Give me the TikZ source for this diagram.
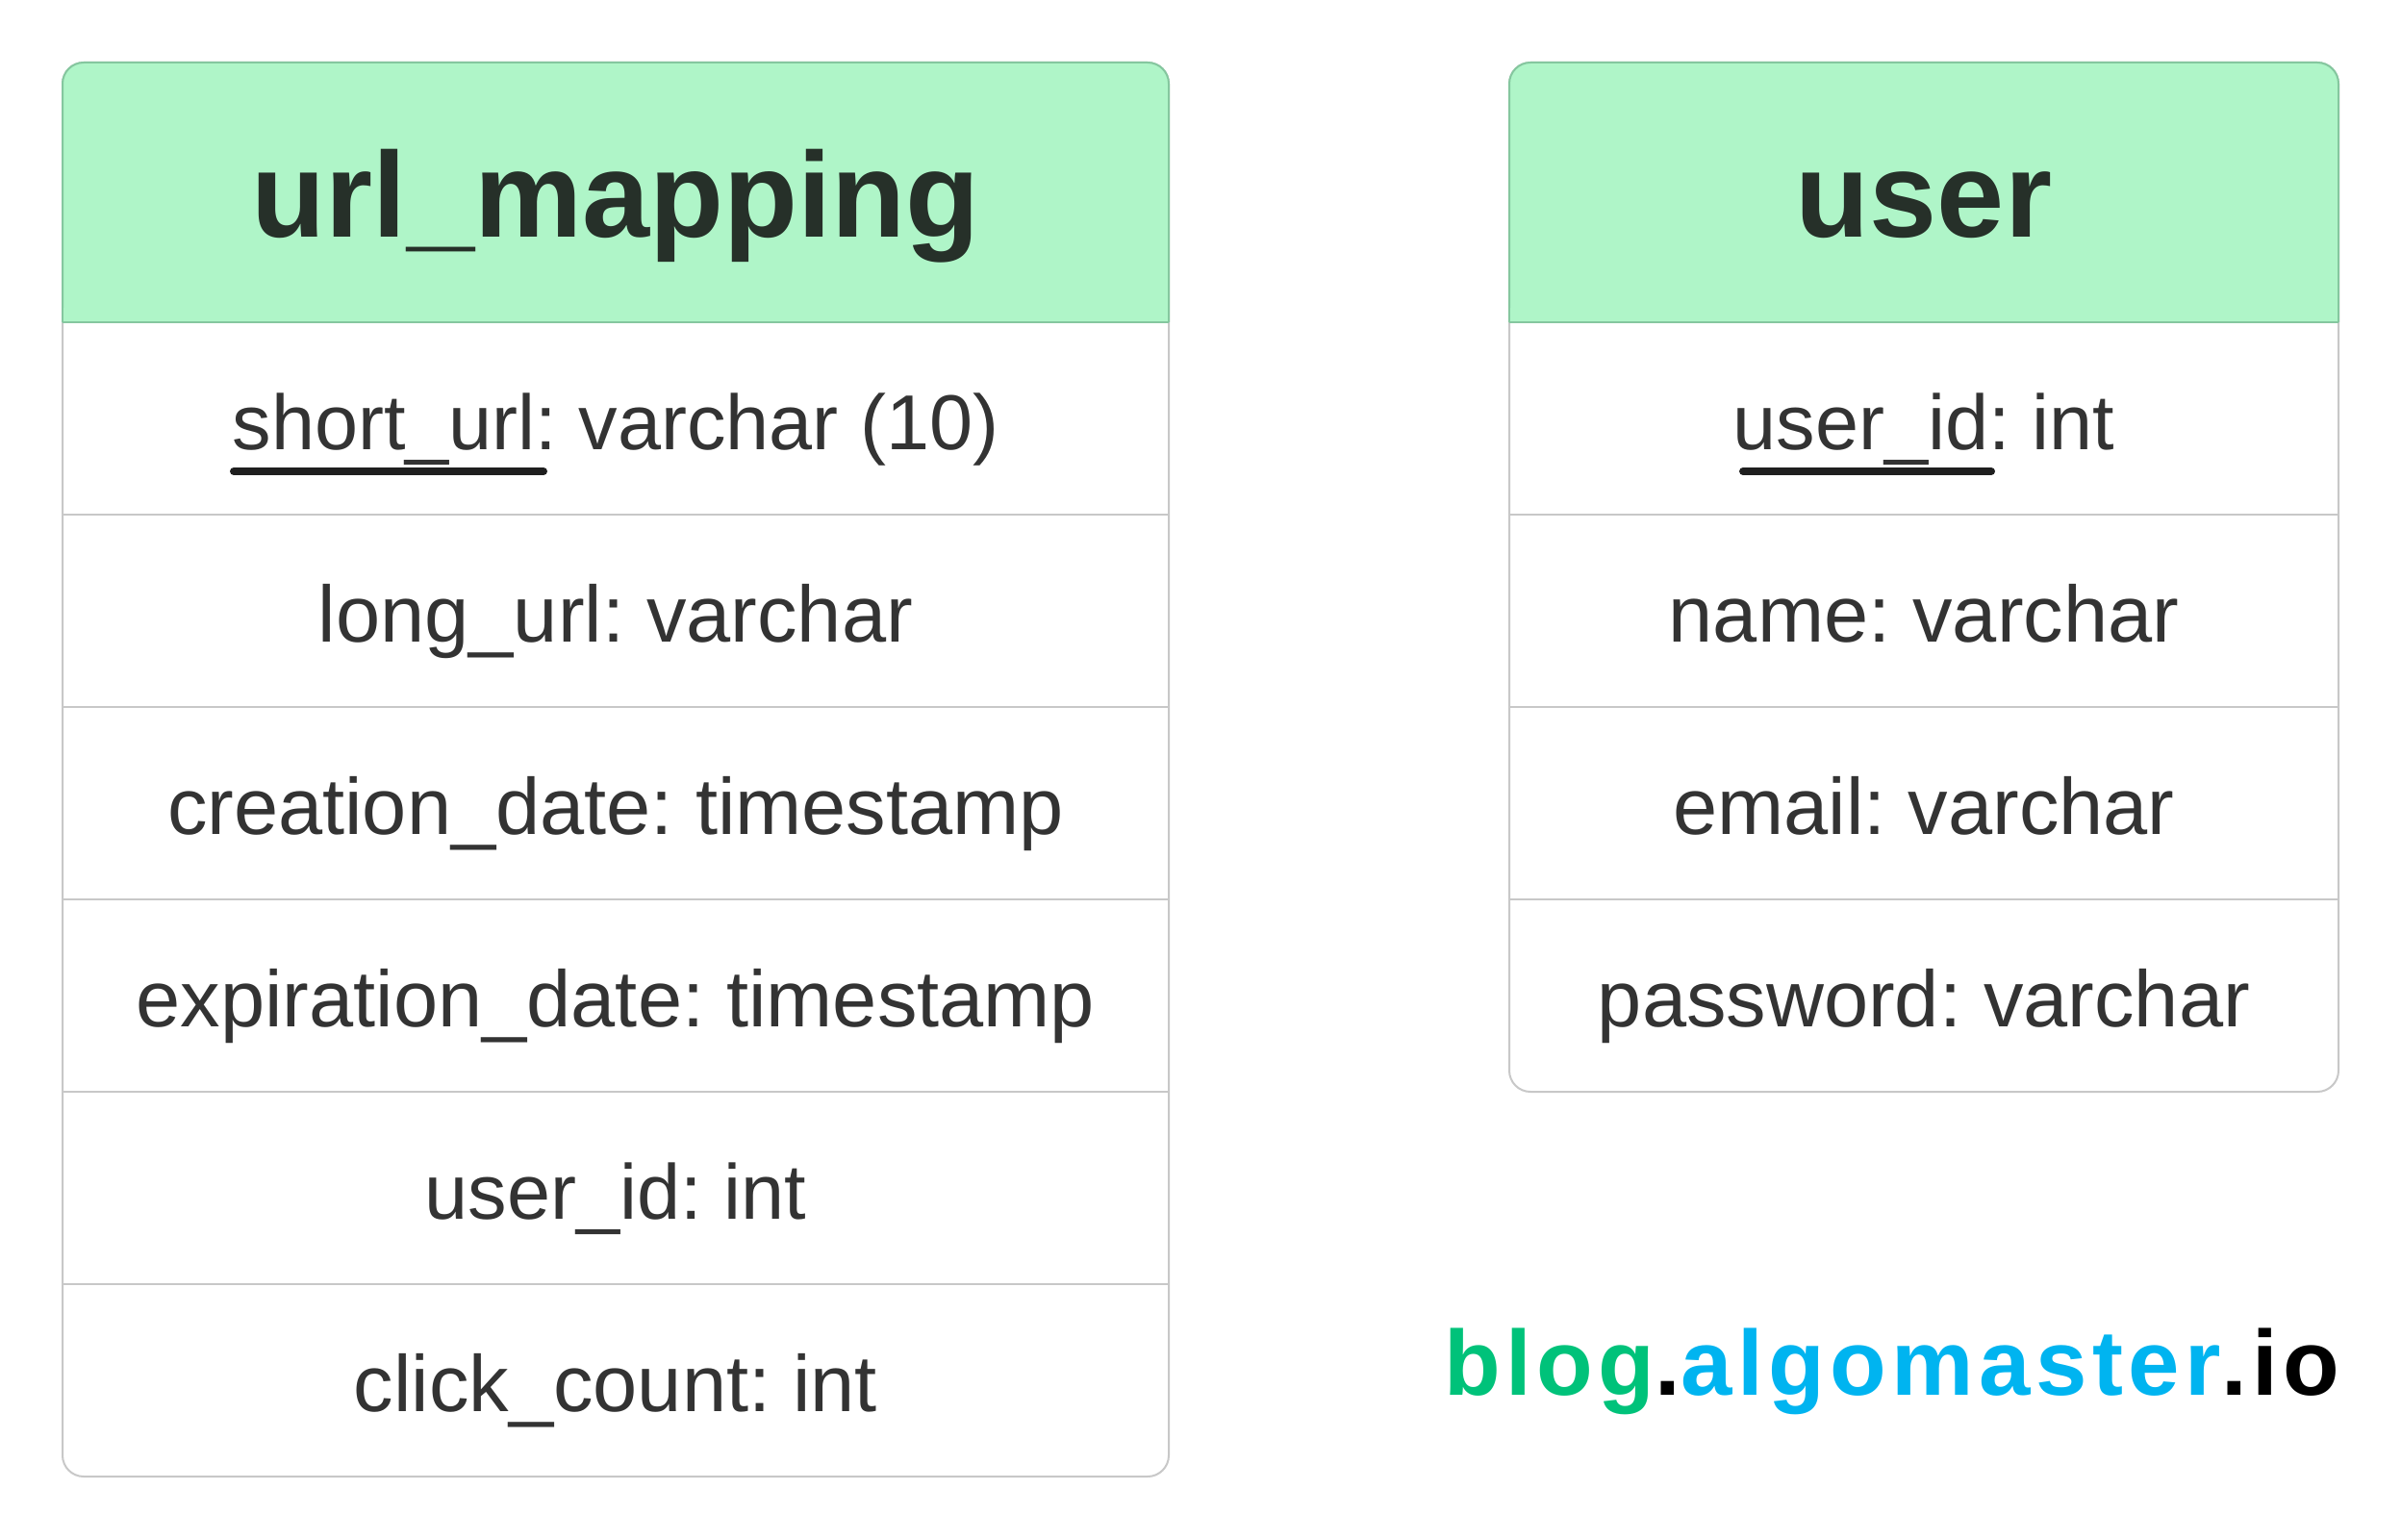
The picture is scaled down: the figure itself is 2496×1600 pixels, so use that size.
\documentclass[tikz,border=0pt]{standalone}
\usepackage{fontspec}
\setmainfont{Liberation Sans}
\definecolor{headfill}{HTML}{AFF5C8}
\definecolor{headline}{HTML}{85C79F}
\definecolor{gridline}{HTML}{C8C8C8}
\definecolor{bodytext}{HTML}{333333}
\definecolor{titletext}{HTML}{263029}
\definecolor{markgreen}{HTML}{00C27A}
\definecolor{markblue}{HTML}{00B4F0}
\tikzset{
  x=1pt,y=-1pt,
  rowtext/.style={anchor=base,inner sep=0pt,text=bodytext,font=\fontsize{83}{83}\selectfont\frenchspacing},
  shortrow/.style={rowtext,font=\fontsize{81}{81}\selectfont\frenchspacing},
  titlelabel/.style={anchor=base,inner sep=0pt,text=titletext,font=\fontsize{126}{126}\selectfont\bfseries},
  framebox/.style={draw=gridline,line width=2pt,rounded corners=22pt},
  headbox/.style={draw=headline,line width=2pt,fill=headfill},
  sep/.style={draw=gridline,line width=2pt},
  keyline/.style={draw=black!88,line width=8pt,line cap=round},
  markpart/.style={anchor=base west,inner sep=0pt,font=\fontsize{96}{96}\selectfont\bfseries\addfontfeature{LetterSpace=5.7}}
}
\begin{document}
\begin{tikzpicture}
\useasboundingbox (0,0) rectangle (2496,1600);
% left table
\draw[framebox] (65,65) rectangle (1215,1535);
\draw[headbox,rounded corners=22pt] (65,335) -- (65,65) -- (1215,65) -- (1215,335);
\fill[headfill] (66,320) rectangle (1214,334);
\draw[headline,line width=2pt] (65,335) -- (1215,335);
\foreach \yy in {535,735,935,1135,1335} \draw[sep] (65,\yy) -- (1215,\yy);
\node[titlelabel] (t1) at (640,246) {url\_mapping};
\node[shortrow] (a1) at (640,467) {short\_url: varchar (10)};
\node[rowtext] (a2) at (640,667) {long\_url: varchar};
\node[rowtext] (a3) at (640,867) {creation\_date: timestamp};
\node[rowtext] (a4) at (640,1067) {expiration\_date: timestamp};
\node[shortrow] (a5) at (640,1267) {user\_id: int};
\node[rowtext] (a6) at (640,1467) {click\_count: int};
\draw[keyline] (243,490) -- (565,490);
% right table
\draw[framebox] (1569,65) rectangle (2431,1135);
\draw[headbox,rounded corners=22pt] (1569,335) -- (1569,65) -- (2431,65) -- (2431,335);
\fill[headfill] (1570,320) rectangle (2430,334);
\draw[headline,line width=2pt] (1569,335) -- (2431,335);
\foreach \yy in {535,735,935} \draw[sep] (1569,\yy) -- (2431,\yy);
\node[titlelabel] (t2) at (2000,246) {user};
\node[shortrow] (b1) at (2000,467) {user\_id: int};
\node[rowtext] (b2) at (2000,667) {name: varchar};
\node[rowtext] (b3) at (2000,867) {email: varchar};
\node[rowtext] (b4) at (2000,1067) {password: varchar};
\draw[keyline] (1812,490) -- (2070,490);
% watermark
\node[markpart,text=markgreen] (m1) at (1501,1450) {blog};
\node[markpart,text=black] (m2) at (m1.base east) {.};
\node[markpart,text=markblue] (m3) at (m2.base east) {algomaster};
\node[markpart,text=black] (m4) at (m3.base east) {.io};
\end{tikzpicture}
\end{document}
